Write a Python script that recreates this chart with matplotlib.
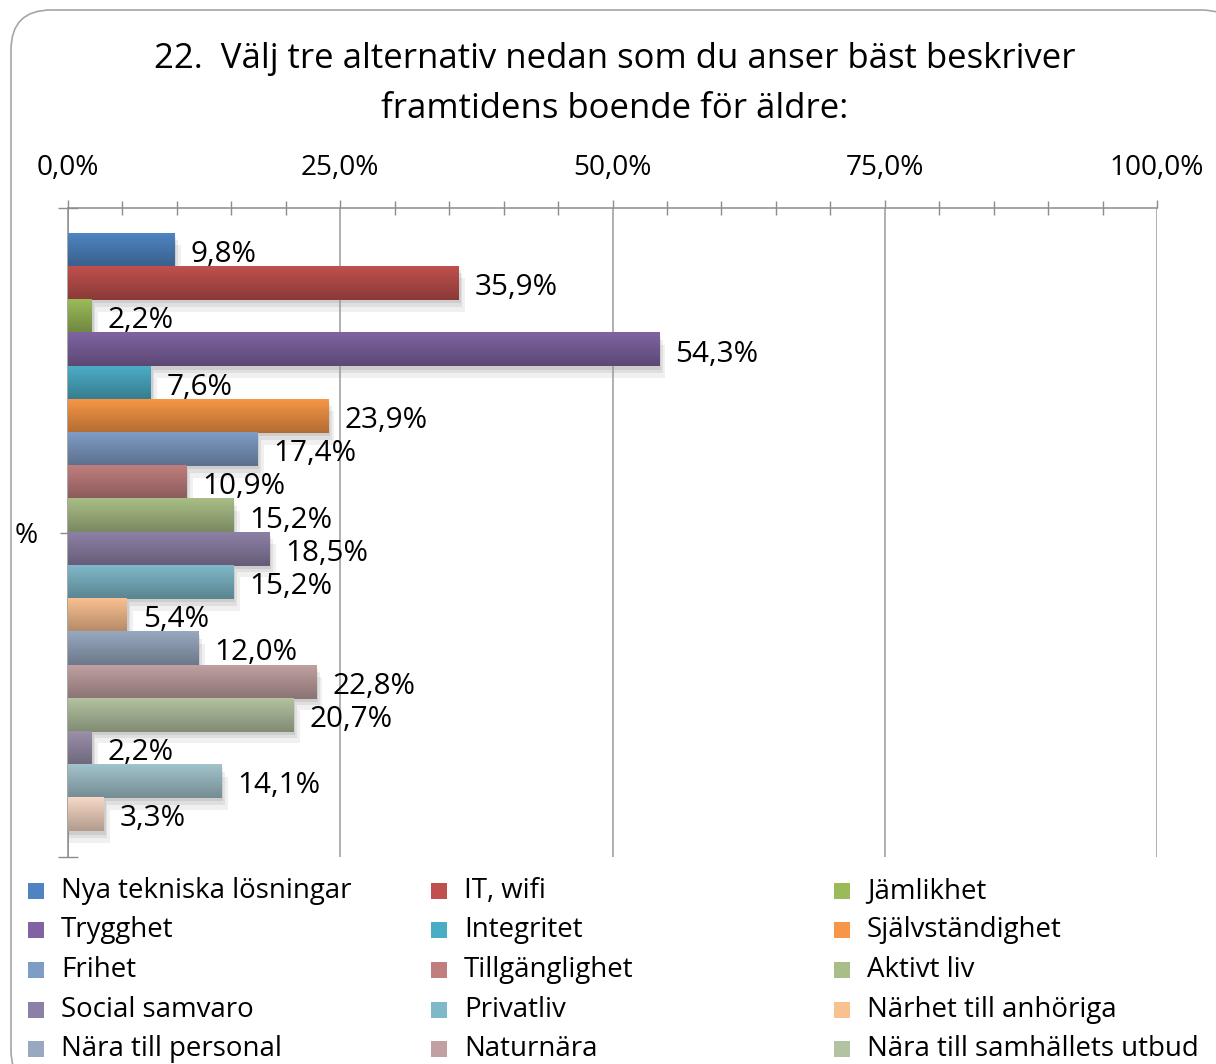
"""Fråga 22: framtidens boende för äldre, liggande staplar."""
import matplotlib
matplotlib.use("Agg")
import matplotlib.pyplot as plt
import numpy as np
from matplotlib.colors import LinearSegmentedColormap, to_rgb
from matplotlib.patches import FancyBboxPatch, Rectangle
from matplotlib.transforms import IdentityTransform
from matplotlib.ticker import MultipleLocator, FixedLocator

plt.rcParams['font.family'] = ['Open Sans', 'DejaVu Sans']

title = "22.  Välj tre alternativ nedan som du anser bäst beskriver\nframtidens boende för äldre:"
category = "%"

labels = ["Nya tekniska lösningar", "IT, wifi", "Jämlikhet",
          "Trygghet", "Integritet", "Självständighet",
          "Frihet", "Tillgänglighet", "Aktivt liv",
          "Social samvaro", "Privatliv", "Närhet till anhöriga",
          "Nära till personal", "Naturnära", "Nära till samhällets utbud",
          "", "", ""]
values = [9.8, 35.9, 2.2, 54.3, 7.6, 23.9, 17.4, 10.9, 15.2,
          18.5, 15.2, 5.4, 12.0, 22.8, 20.7, 2.2, 14.1, 3.3]

colors = ["#4F84C2", "#C0504D", "#9BBB59", "#8064A2", "#4BACC6", "#F79646",
          "#7F9CC4", "#C07E7E", "#A9BE86", "#8D80A6", "#7FB8C9", "#F9C090",
          "#97A8C0", "#C0A0A0", "#B3C2A0", "#9A90AA", "#A2C3CC", "#F7D8C5"]

W, H = 1216, 1064
fig = plt.figure(figsize=(W / 100, H / 100), dpi=100)

# rundad ram runt hela diagrammet (pixlar, origo nere till vänster)
frame = FancyBboxPatch((11, -26), 1230, H - 10 + 26, boxstyle="round,pad=0,rounding_size=40",
                       transform=IdentityTransform(), facecolor="white",
                       edgecolor="#A6A6A6", linewidth=1.2, zorder=-5)
fig.patches.append(frame)

ax = fig.add_axes([68 / W, 1 - 857 / H, 1089 / W, 649 / H])
ax.set_facecolor("none")
ax.set_zorder(2)

n = len(values)
group = 0.921
bh = group / n
ypos = -group / 2 + (np.arange(n) + 0.5) * bh

def darker(c, f=0.72):
    r, g, b = to_rgb(c)
    return (r * f, g * f, b * f)

bars = ax.barh(ypos, values, height=bh, color=colors, zorder=2)
grad = np.linspace(0, 1, 64).reshape(-1, 1)
for b, c in zip(bars, colors):
    x0, y0, w, h = b.get_x(), b.get_y(), b.get_width(), b.get_height()
    # mjuk skugga nere till höger
    for k, a in [(0.35, 0.06), (0.2, 0.07), (0.1, 0.08)]:
        ax.add_patch(Rectangle((x0, y0 + h * k), w + k * 1.6, h, color="#000000",
                               alpha=a, zorder=1, linewidth=0))
    cmap = LinearSegmentedColormap.from_list("g", [c, darker(c)])
    ax.imshow(grad, extent=[x0, x0 + w, y0, y0 + h], origin="lower",
              cmap=cmap, aspect="auto", zorder=3, interpolation="bilinear")

for y, v in zip(ypos, values):
    ax.annotate(f"{v:.1f}%".replace(".", ","), (v, y), xytext=(11.5, -3),
                textcoords="offset points", va="center", ha="left",
                fontsize=21.3, color="black", zorder=4)

ax.set_xlim(0, 100)
ax.set_ylim(0.5, -0.5)

ax.xaxis.tick_top()
ax.xaxis.set_major_locator(MultipleLocator(25))
ax.xaxis.set_minor_locator(MultipleLocator(5))
ax.xaxis.set_major_formatter(lambda x, p: f"{x:.1f}%".replace(".", ","))
ax.tick_params(axis="x", which="major", direction="out", length=6, width=1,
               color="#8C8C8C", labelsize=20.2, pad=13)
ax.tick_params(axis="x", which="minor", direction="inout", length=10, width=1,
               color="#8C8C8C")
ax.grid(axis="x", which="major", color="#9A9A9A", linewidth=1.1, zorder=0)

ax.set_yticks([0])
ax.set_yticklabels([category])
ax.yaxis.set_minor_locator(FixedLocator([-0.5, 0.5]))
ax.tick_params(axis="y", which="major", direction="out", length=6, width=1,
               color="#8C8C8C", labelsize=20.2, pad=16)
ax.tick_params(axis="y", which="minor", direction="inout", length=15, width=1,
               color="#8C8C8C")

for s in ["right", "bottom"]:
    ax.spines[s].set_visible(False)
for s in ["top", "left"]:
    ax.spines[s].set_color("#8C8C8C")
    ax.spines[s].set_linewidth(1.1)

fig.text(615 / W, 1 - 84 / H, title, ha="center", va="center", fontsize=25,
         linespacing=1.58)

# förklaring, tre kolumner, radvis
col_x = [28, 431, 834]
row_y = [891, 930, 970, 1010, 1049]
for i, (lab, c) in enumerate(zip(labels, colors)):
    r, k = divmod(i, 3)
    if r >= len(row_y) or not lab:
        continue
    x, y = col_x[k], row_y[r]
    sq = 16
    fig.patches.append(Rectangle((x, H - y - sq / 2), sq, sq, transform=IdentityTransform(),
                                 facecolor=c, edgecolor="none", zorder=2))
    fig.text((x + 33) / W, 1 - y / H, lab, ha="left", va="center", fontsize=19.9)

fig.savefig("out.png", dpi=100)
